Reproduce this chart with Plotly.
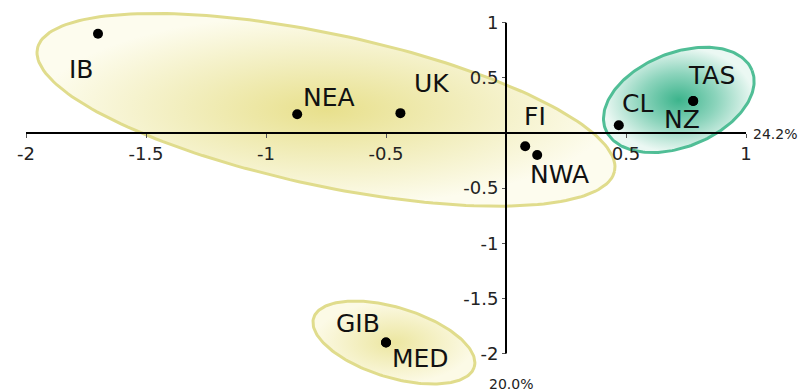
import numpy as np
import plotly.graph_objects as go

# ---- data ----
sites = ["IB", "NEA", "UK", "FI", "NWA", "CL", "TAS", "NZ", "GIB", "MED"]
pc1 = [-1.70, -0.87, -0.44, 0.08, 0.13, 0.47, 0.78, 0.78, -0.50, -0.50]
pc2 = [0.90, 0.17, 0.18, -0.12, -0.20, 0.07, 0.29, 0.29, -1.90, -1.90]
x_ticks = [-2, -1.5, -1, -0.5, 0.5, 1]
x_ticktext = ["-2", "-1.5", "-1", "-0.5", "0.5", "1"]
y_ticks = [1, 0.5, -0.5, -1, -1.5, -2]
y_ticktext = ["1", "0.5", "-0.5", "-1", "-1.5", "-2"]
x_title = "24.2%"
y_title = "20.0%"

# ---- layout geometry ----
W, H = 806, 391
OFF = 8  # page body margin
# page px: x = 506 + 240*v ; y = 133 - 110.3*v
xr = [(OFF - 506) / 240, (W + OFF - 506) / 240]
yr = [(133 - (H + OFF)) / 110.3, (133 - OFF) / 110.3]
sx = W / (xr[1] - xr[0])
sy = H / (yr[1] - yr[0])

FONT = "DejaVu Sans"

def ellipse(cx, cy, a, b, theta_deg, n=200):
    th = np.radians(theta_deg)
    t = np.linspace(0, 2 * np.pi, n)
    dx = a * np.cos(t) * np.cos(th) - b * np.sin(t) * np.sin(th)
    dy = a * np.cos(t) * np.sin(th) + b * np.sin(t) * np.cos(th)
    return cx + dx / sx, cy - dy / sy

fig = go.Figure()

# group ellipses (center in data units, semi-axes in px, rotation in deg, clockwise)
groups = [
    dict(c=(-0.75, 0.21), a=295, b=76, th=12, line="rgb(224,220,140)",
         cs=[[0, "rgb(232,224,140)"], [0.5, "rgb(242,238,190)"], [1, "rgb(253,252,238)"]]),
    dict(c=(-0.467, -1.90), a=84, b=35, th=17, line="rgb(224,220,140)",
         cs=[[0, "rgb(236,230,160)"], [1, "rgb(252,250,230)"]]),
    dict(c=(0.72, 0.30), a=79, b=47, th=-22, line="rgb(80,190,150)",
         cs=[[0, "rgb(60,180,140)"], [0.5, "rgb(140,212,188)"], [1, "rgb(235,248,243)"]]),
]
for g in groups:
    ex, ey = ellipse(g["c"][0], g["c"][1], g["a"], g["b"], g["th"])
    fig.add_trace(go.Scatter(
        x=ex, y=ey, mode="lines", fill="toself",
        line=dict(color=g["line"], width=3),
        fillgradient=dict(type="radial", colorscale=g["cs"]),
        hoverinfo="skip", showlegend=False,
    ))

fig.add_trace(go.Scatter(
    x=pc1, y=pc2, mode="markers",
    marker=dict(color="black", size=10),
    showlegend=False, hoverinfo="skip",
))

# label offsets in px (dx right, dy down)
offsets = {"IB": (-17, 38), "NEA": (32, -15), "UK": (31, -28), "FI": (10, -28),
           "NWA": (22, 21), "CL": (19, -20), "TAS": (18, -24), "NZ": (-11, 20),
           "GIB": (-28, -17), "MED": (34, 18)}
for s, xv, yv in zip(sites, pc1, pc2):
    dx, dy = offsets[s]
    fig.add_annotation(x=xv, y=yv, text=s, showarrow=False,
                       xshift=dx, yshift=-dy + 2,
                       font=dict(family=FONT, size=25, color="#111"))

# axis lines
fig.add_shape(type="line", x0=min(x_ticks), x1=max(x_ticks), y0=0, y1=0,
              line=dict(color="black", width=2), layer="above")
fig.add_shape(type="line", x0=0, x1=0, y0=min(y_ticks), y1=max(y_ticks),
              line=dict(color="black", width=2), layer="above")

# axis titles
fig.add_annotation(x=max(x_ticks), y=0, text=x_title, showarrow=False,
                   xanchor="left", xshift=5, yshift=-1,
                   font=dict(family=FONT, size=14, color="#222"))
fig.add_annotation(x=0, y=min(y_ticks), text=y_title, showarrow=False,
                   yanchor="top", xshift=5, yshift=-20,
                   font=dict(family=FONT, size=14, color="#222"))

xpos = (0 - yr[0]) / (yr[1] - yr[0])
ypos = (0 - xr[0]) / (xr[1] - xr[0])

fig.update_layout(
    width=W, height=H,
    margin=dict(l=0, r=0, t=0, b=0, autoexpand=False),
    paper_bgcolor="white", plot_bgcolor="white",
    xaxis=dict(range=xr, anchor="free", position=xpos, showgrid=False, automargin=False,
               zeroline=False, showline=False, tickvals=x_ticks, ticktext=x_ticktext,
               ticks="outside", ticklen=4, tickcolor="#555", tickwidth=1,
               tickfont=dict(family=FONT, size=18, color="#222")),
    yaxis=dict(range=yr, anchor="free", position=ypos, showgrid=False, automargin=False,
               zeroline=False, showline=False, tickvals=y_ticks, ticktext=y_ticktext,
               ticks="outside", ticklen=4, tickcolor="#555", tickwidth=1,
               tickfont=dict(family=FONT, size=18, color="#222")),
)

fig.write_html("out.html")
